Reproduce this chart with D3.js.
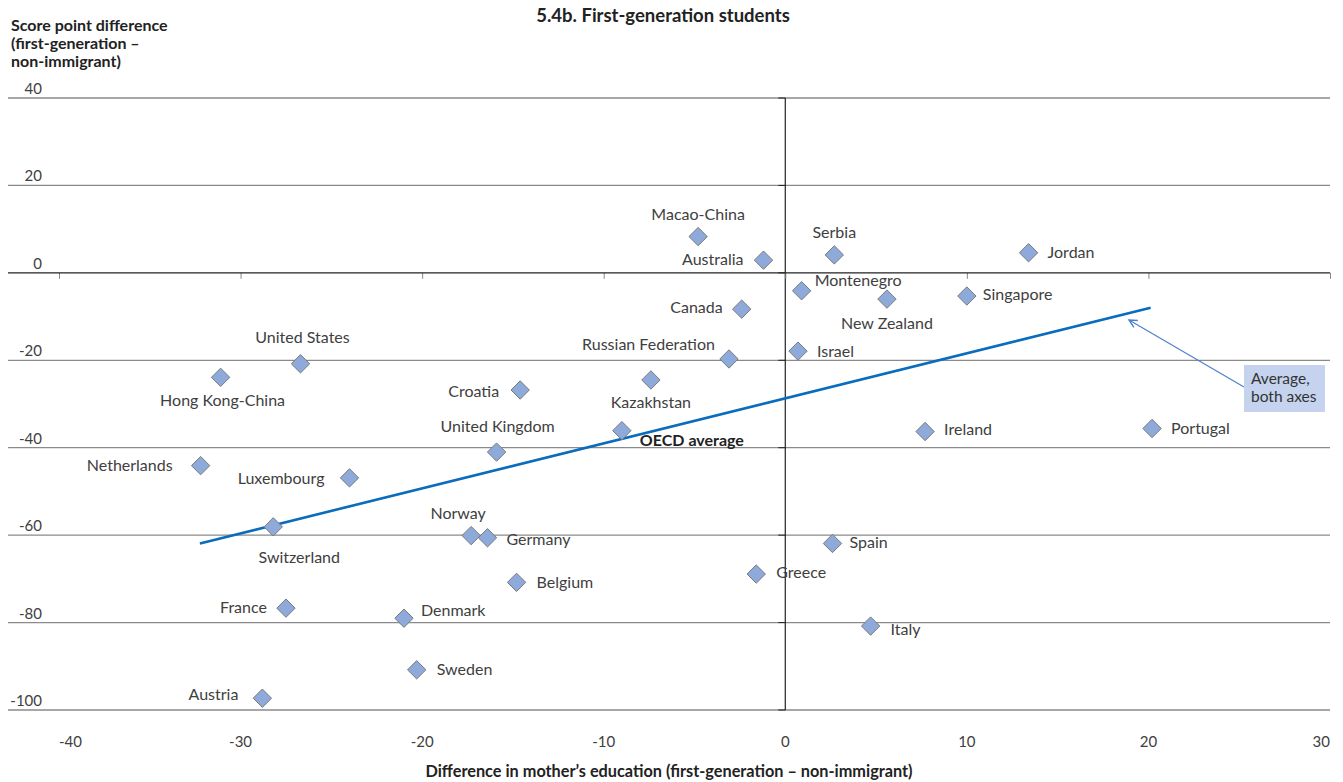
<!DOCTYPE html>
<html>
<head>
<meta charset="utf-8">
<script src="https://cdn.jsdelivr.net/npm/d3@7"></script>
<style>
  html, body { margin: 0; padding: 0; background: #fff; }
  svg { display: block; font-family: Lato, "Open Sans", sans-serif; }
</style>
</head>
<body>
<svg id="chart" width="1343" height="782"></svg>
<script>
// Countries and their values
const countries = [
  "Macao-China", "Australia", "Serbia", "Jordan", "Montenegro", "New Zealand",
  "Singapore", "Canada", "Russian Federation", "Israel", "Kazakhstan",
  "OECD average", "Croatia", "United Kingdom", "Hong Kong-China", "United States",
  "Netherlands", "Luxembourg", "Switzerland", "Norway", "Germany", "Belgium",
  "France", "Denmark", "Sweden", "Austria", "Spain", "Greece", "Italy",
  "Ireland", "Portugal"
];
// Difference in mother's education (first-generation – non-immigrant)
const motherEduDiff = [
  -4.8, -1.2, 2.7, 13.4, 0.9, 5.6,
  10.0, -2.4, -3.1, 0.7, -7.4,
  -9.0, -14.6, -15.9, -31.1, -26.7,
  -32.2, -24.0, -28.2, -17.3, -16.4, -14.8,
  -27.5, -21.0, -20.3, -28.8, 2.6, -1.6, 4.7,
  7.7, 20.2
];
// Score point difference (first-generation – non-immigrant)
const scoreDiff = [
  8.3, 2.9, 4.1, 4.6, -4.1, -6.0,
  -5.3, -8.3, -19.7, -17.9, -24.5,
  -36.1, -26.8, -41.0, -23.9, -20.8,
  -44.1, -46.9, -58.1, -60.1, -60.6, -70.8,
  -76.7, -79.0, -90.8, -97.3, -61.9, -68.9, -80.8,
  -36.3, -35.6
];
// Trend line end points [x, y]
const trendStart = [-32.24, -61.9];
const trendEnd = [20.12, -8.0];

const xTicks = [-40, -30, -20, -10, 0, 10, 20, 30];
const yTicks = [40, 20, 0, -20, -40, -60, -80, -100];

// Label placement relative to each marker: [dx, dy, anchor]
const labelPlacement = [
  [0, -17, "middle"], [-20, 5, "end"], [0, -17, "middle"], [19, 5, "start"],
  [13, -5, "start"], [0, 30, "middle"], [16, 4, "start"], [-19, 4, "end"],
  [-14, -9, "end"], [19, 6, "start"], [0, 28, "middle"], [18, 15, "start"],
  [-21, 7, "end"], [1, -20, "middle"], [2, 29, "middle"], [2, -21, "middle"],
  [-28, 5, "end"], [-25, 6, "end"], [26, 36, "middle"], [-13, -17, "middle"],
  [19, 7, "start"], [20, 6, "start"], [-19, 5, "end"], [17, -2, "start"],
  [20, 5, "start"], [-24, 2, "end"], [17, 5, "start"], [20, 4, "start"],
  [20, 9, "start"], [19, 3, "start"], [19, 6, "start"]
];

const svg = d3.select("#chart");
const x = d3.scaleLinear().domain([-40, 30]).range([59, 1330]);
const y = d3.scaleLinear().domain([-100, 40]).range([710, 98]);
const gridLeft = 8;

// Horizontal gridlines
svg.append("g").selectAll("line").data(yTicks.filter(d => d !== 0)).join("line")
  .attr("x1", gridLeft).attr("x2", x(30))
  .attr("y1", d => y(d)).attr("y2", d => y(d))
  .attr("stroke", "#8a8a8a").attr("stroke-width", 1.3);

// Y tick labels, sitting above gridlines
svg.append("g").selectAll("text").data(yTicks).join("text")
  .attr("x", 42).attr("y", d => y(d) - 4)
  .attr("text-anchor", "end")
  .attr("font-size", 15).attr("fill", "#404040")
  .text(d => d);

// Vertical axis at x = 0 with small ticks on its left
svg.append("line")
  .attr("x1", x(0)).attr("x2", x(0)).attr("y1", y(40)).attr("y2", y(-100))
  .attr("stroke", "#222").attr("stroke-width", 1.2);
svg.append("g").selectAll("line").data(yTicks).join("line")
  .attr("x1", x(0) - 7).attr("x2", x(0))
  .attr("y1", d => y(d)).attr("y2", d => y(d))
  .attr("stroke", "#222").attr("stroke-width", 1);

// Horizontal axis at y = 0 with ticks below it
const xAxis = d3.axisBottom(x).tickValues(xTicks).tickSize(6).tickFormat("");
const gx = svg.append("g").attr("transform", `translate(0,${y(0)})`).call(xAxis);
gx.select(".domain").remove();
gx.selectAll(".tick line").attr("stroke", "#888").attr("stroke-width", 1);
svg.append("line")
  .attr("x1", gridLeft).attr("x2", x(30)).attr("y1", y(0)).attr("y2", y(0))
  .attr("stroke", "#222").attr("stroke-width", 1.3);

// X tick labels along the bottom
svg.append("g").selectAll("text").data(xTicks).join("text")
  .attr("x", d => x(d))
  .attr("y", 747)
  .attr("text-anchor", (d, i) => i === 0 ? "start" : (i === xTicks.length - 1 ? "end" : "middle"))
  .attr("font-size", 15).attr("fill", "#404040")
  .text(d => d);

// Trend line
svg.append("line")
  .attr("x1", x(trendStart[0])).attr("y1", y(trendStart[1]))
  .attr("x2", x(trendEnd[0])).attr("y2", y(trendEnd[1]))
  .attr("stroke", "#0a6cbd").attr("stroke-width", 2.6);

// Diamond markers
const pts = countries.map((c, i) => ({ name: c, x: motherEduDiff[i], y: scoreDiff[i], p: labelPlacement[i] }));
const diamond = d3.symbol().type(d3.symbolDiamond2).size(215);
svg.append("g").selectAll("path").data(pts).join("path")
  .attr("d", diamond)
  .attr("transform", d => `translate(${x(d.x)},${y(d.y)})`)
  .attr("fill", "#8eaadb").attr("stroke", "#7a7a7a").attr("stroke-width", 1);

// Country labels
svg.append("g").selectAll("text").data(pts).join("text")
  .attr("x", d => x(d.x) + d.p[0])
  .attr("y", d => y(d.y) + d.p[1])
  .attr("text-anchor", d => d.p[2])
  .attr("font-size", 16)
  .attr("font-weight", d => d.name === "OECD average" ? 700 : 400)
  .attr("fill", d => d.name === "OECD average" ? "#222" : "#404040")
  .text(d => d.name);

// Annotation: arrow and callout box
const defs = svg.append("defs");
defs.append("marker").attr("id", "arrowHead")
  .attr("viewBox", "0 0 10 10").attr("refX", 9).attr("refY", 5)
  .attr("markerWidth", 9).attr("markerHeight", 9).attr("orient", "auto")
  .append("path").attr("d", "M1,1 L9,5 L1,9").attr("fill", "none")
  .attr("stroke", "#4a7fc9").attr("stroke-width", 1.4);
svg.append("line")
  .attr("x1", 1244).attr("y1", 387).attr("x2", 1129).attr("y2", 320)
  .attr("stroke", "#4a7fc9").attr("stroke-width", 1.1)
  .attr("marker-end", "url(#arrowHead)");
svg.append("rect")
  .attr("x", 1244).attr("y", 365).attr("width", 81).attr("height", 47)
  .attr("fill", "#c5d3ee");
svg.append("text").attr("x", 1251).attr("y", 384)
  .attr("font-size", 15.5).attr("fill", "#333")
  .selectAll("tspan").data(["Average,", "both axes"]).join("tspan")
  .attr("x", 1251).attr("dy", (d, i) => i === 0 ? 0 : 18).text(d => d);

// Titles
svg.append("text").attr("x", 663).attr("y", 22).attr("text-anchor", "middle")
  .attr("font-size", 18.5).attr("font-weight", 700).attr("fill", "#222")
  .text("5.4b. First-generation students");
svg.append("text").attr("x", 11).attr("y", 31)
  .attr("font-size", 16).attr("font-weight", 700).attr("fill", "#222")
  .selectAll("tspan").data(["Score point difference", "(first-generation –", "non-immigrant)"]).join("tspan")
  .attr("x", 11).attr("dy", (d, i) => i === 0 ? 0 : 18).text(d => d);
svg.append("text").attr("x", 669).attr("y", 777).attr("text-anchor", "middle")
  .attr("font-size", 16.3).attr("font-weight", 700).attr("fill", "#222")
  .text("Difference in mother’s education (first-generation – non-immigrant)");
</script>
</body>
</html>
